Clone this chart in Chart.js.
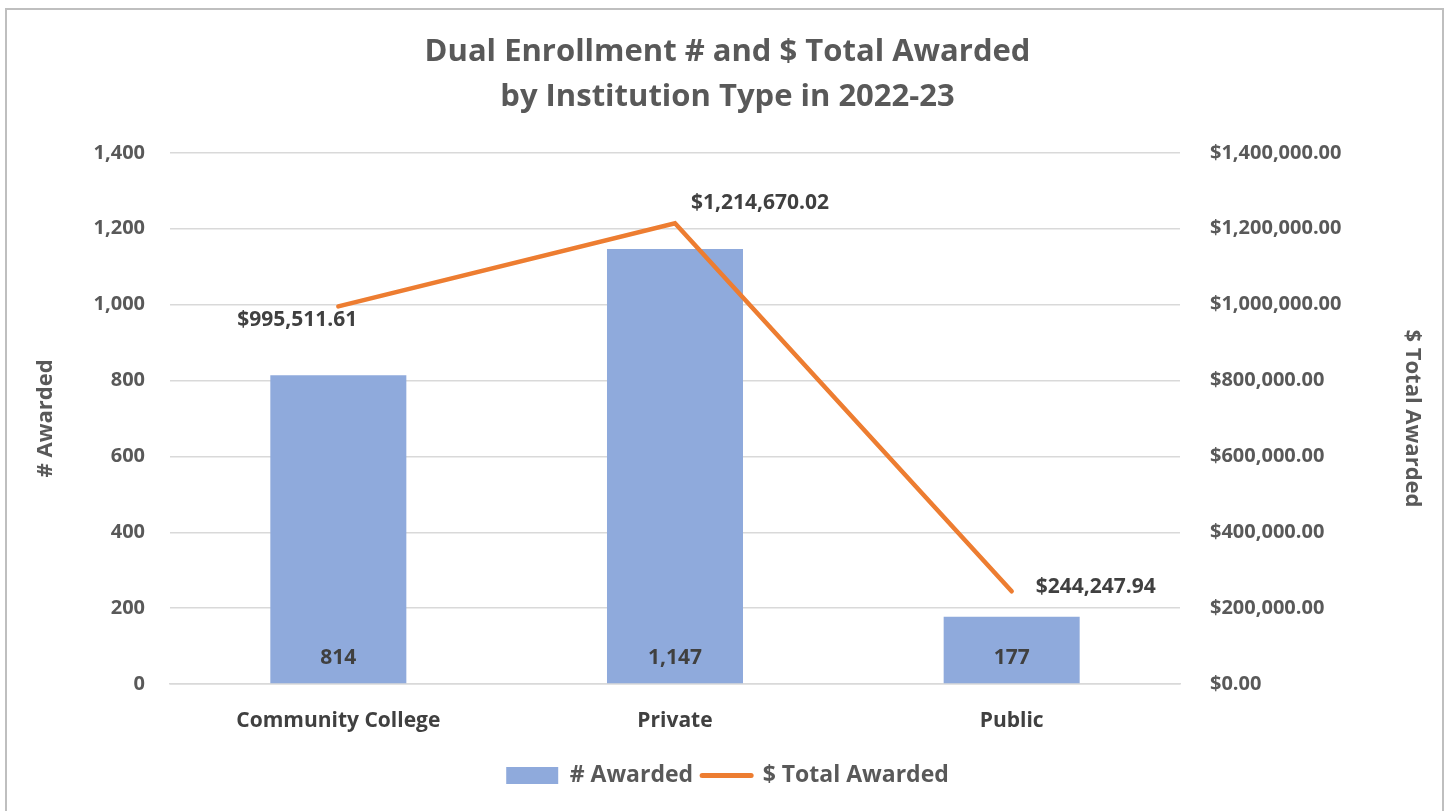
<!DOCTYPE html>
<html>
<head>
<meta charset="utf-8">
<script src="https://cdn.jsdelivr.net/npm/chart.js@4.4.1/dist/chart.umd.min.js"></script>
<style>
  html, body { margin: 0; padding: 0; background: #fff; }
  #wrap { position: absolute; left: 5px; top: 8px; width: 1439px; height: 810px; border: 2px solid #bfbfbf; border-bottom: none; box-sizing: border-box; }
  #holder { position: absolute; left: 0; top: 0; width: 1449px; height: 811px; }
</style>
</head>
<body>
<div id="wrap"></div>
<div id="holder"><canvas id="myChart" width="1449" height="811"></canvas></div>
<script>
var categorias = ["Community College", "Private", "Public"];
var numAwarded = [814, 1147, 177];
var totalAwarded = [995511.61, 1214670.02, 244247.94];

// where each $ label sits relative to its point (px)
var lineLabelOffsets = [[-41, 14], [85, -20], [84, -4]];

const fontFam = "'Open Sans', sans-serif";
const gris = "#595959";

function dinero(v) {
  return "$" + v.toLocaleString("en-US", { minimumFractionDigits: 2, maximumFractionDigits: 2 });
}

const etiquetas = {
  id: "etiquetas",
  afterDatasetsDraw(chart) {
    const ctx = chart.ctx;
    ctx.save();
    ctx.font = "bold 21px " + fontFam;
    ctx.fillStyle = "#404040";
    ctx.textAlign = "center";
    ctx.textBaseline = "middle";
    const barras = chart.getDatasetMeta(0).data;
    barras.forEach(function (b, i) {
      ctx.fillText(numAwarded[i].toLocaleString("en-US"), b.x, chart.scales.y.bottom - 26);
    });
    const puntos = chart.getDatasetMeta(1).data;
    puntos.forEach(function (p, i) {
      ctx.fillText(dinero(totalAwarded[i]), p.x + lineLabelOffsets[i][0], p.y + lineLabelOffsets[i][1]);
    });
    ctx.restore();
  },
  afterDraw(chart) {
    // la leyenda de la línea: trazo naranja en lugar de caja
    const caja = chart.legend.legendHitBoxes[1];
    if (!caja) return;
    const ctx = chart.ctx;
    ctx.save();
    ctx.strokeStyle = "#ed7d31";
    ctx.lineWidth = 5;
    ctx.lineCap = "round";
    const yMid = caja.top + caja.height / 2;
    ctx.beginPath();
    ctx.moveTo(caja.left + 3, yMid);
    ctx.lineTo(caja.left + 52, yMid);
    ctx.stroke();
    ctx.restore();
  },
};

const data = {
  labels: categorias,
  datasets: [
    {
      type: "bar",
      label: "# Awarded",
      data: numAwarded,
      backgroundColor: "#8faadc",
      yAxisID: "y",
      barPercentage: 0.404,
      categoryPercentage: 1,
      order: 2,
    },
    {
      type: "line",
      label: "$ Total Awarded",
      data: totalAwarded,
      borderColor: "#ed7d31",
      backgroundColor: "#ed7d31",
      borderWidth: 4.5,
      pointRadius: 0,
      borderCapStyle: "round",
      yAxisID: "y1",
      order: 1,
    },
  ],
};

const config = {
  type: "bar",
  data: data,
  options: {
    responsive: false,
    animation: false,
    layout: { padding: { left: 20, right: 14, top: 30, bottom: 14 } },
    plugins: {
      title: {
        display: true,
        text: ["Dual Enrollment # and $ Total Awarded", "by Institution Type in 2022-23"],
        color: gris,
        font: { family: fontFam, size: 31, weight: "bold", lineHeight: 1.45 },
        padding: { top: 0, bottom: 33 },
      },
      legend: {
        position: "bottom",
        labels: {
          color: gris,
          font: { family: fontFam, size: 23, weight: "bold" },
          boxWidth: 52,
          boxHeight: 17,
          padding: 6,
          generateLabels: function (chart) {
            return [
              { text: "# Awarded", fillStyle: "#8faadc", strokeStyle: "#8faadc", lineWidth: 0, datasetIndex: 0, fontColor: gris },
              { text: "$ Total Awarded", fillStyle: "rgba(0,0,0,0)", strokeStyle: "rgba(0,0,0,0)", lineWidth: 0, datasetIndex: 1, fontColor: gris },
            ];
          },
        },
      },
      tooltip: { enabled: false },
    },
    scales: {
      x: {
        offset: true,
        grid: { display: false },
        border: { display: true, color: "#d9d9d9", width: 1.5 },
        ticks: { color: "#404040", font: { family: fontFam, size: 21, weight: "bold" }, padding: 16 },
        afterFit: function (s) { s.height = 74; },
      },
      y: {
        position: "left",
        min: 0,
        max: 1400,
        ticks: {
          stepSize: 200,
          color: gris,
          padding: 25,
          font: { family: fontFam, size: 20, weight: "bold" },
          callback: function (v) { return v.toLocaleString("en-US"); },
        },
        grid: { color: "#d9d9d9", lineWidth: 1.5, drawTicks: false },
        border: { display: false },
        title: { display: true, text: "# Awarded", color: gris, font: { family: fontFam, size: 22, weight: "bold" }, padding: { top: 13, bottom: 0 } },
        afterFit: function (s) { s.width = 150; },
      },
      y1: {
        position: "right",
        min: 0,
        max: 1400000,
        ticks: {
          stepSize: 200000,
          color: gris,
          padding: 30,
          font: { family: fontFam, size: 20, weight: "bold" },
          callback: function (v) { return dinero(v); },
        },
        grid: { drawOnChartArea: false, drawTicks: false },
        border: { display: false },
        title: { display: true, text: "$ Total Awarded", color: gris, font: { family: fontFam, size: 22, weight: "bold" }, padding: { top: 10, bottom: 0 } },
        afterFit: function (s) { s.width = 255; },
      },
    },
  },
  plugins: [etiquetas],
};

var myChart = new Chart(document.getElementById("myChart"), config);
</script>
</body>
</html>
